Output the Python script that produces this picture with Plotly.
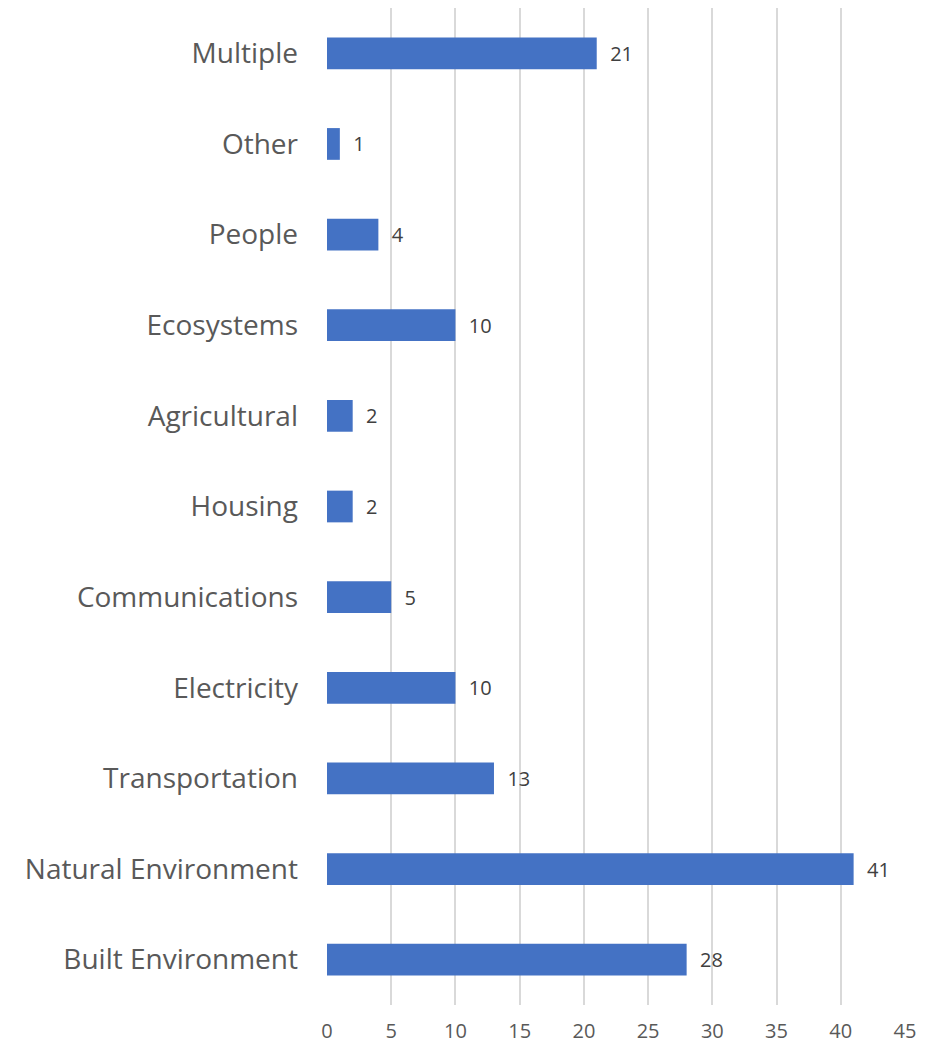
import plotly.graph_objects as go

categories = ["Built Environment", "Natural Environment", "Transportation", "Electricity",
              "Communications", "Housing", "Agricultural", "Ecosystems", "People", "Other", "Multiple"]
values = [28, 41, 13, 10, 5, 2, 2, 10, 4, 1, 21]
x_ticks = [0, 5, 10, 15, 20, 25, 30, 35, 40, 45]

fig = go.Figure(go.Bar(
    y=categories, x=values, orientation="h",
    marker=dict(color="#4472C4", line=dict(width=0)),
    text=values, texttemplate="  %{x}", textposition="outside", cliponaxis=False,
    textfont=dict(family="Open Sans", size=20, color="#404040"),
))

# page body has an 8px default margin, so the figure is sized to fit the window
fig.update_layout(
    width=930, height=1038,
    margin=dict(l=319, r=33, t=0, b=41),
    paper_bgcolor="white", plot_bgcolor="white",
    bargap=0.65, showlegend=False,
    font=dict(family="Open Sans", color="#595959"),
)
fig.update_xaxes(range=[0, 45], tickvals=x_ticks, showgrid=True, gridcolor="#d9d9d9", gridwidth=1.5,
                 zeroline=False, showline=False, tickfont=dict(size=20, color="#595959"),
                 ticks="", ticklabelstandoff=12, automargin=False)
fig.update_yaxes(showgrid=False, zeroline=False, showline=False, ticks="", automargin=False,
                 tickfont=dict(size=28, color="#595959"), ticklabelstandoff=28)

fig.write_html("out.html")
